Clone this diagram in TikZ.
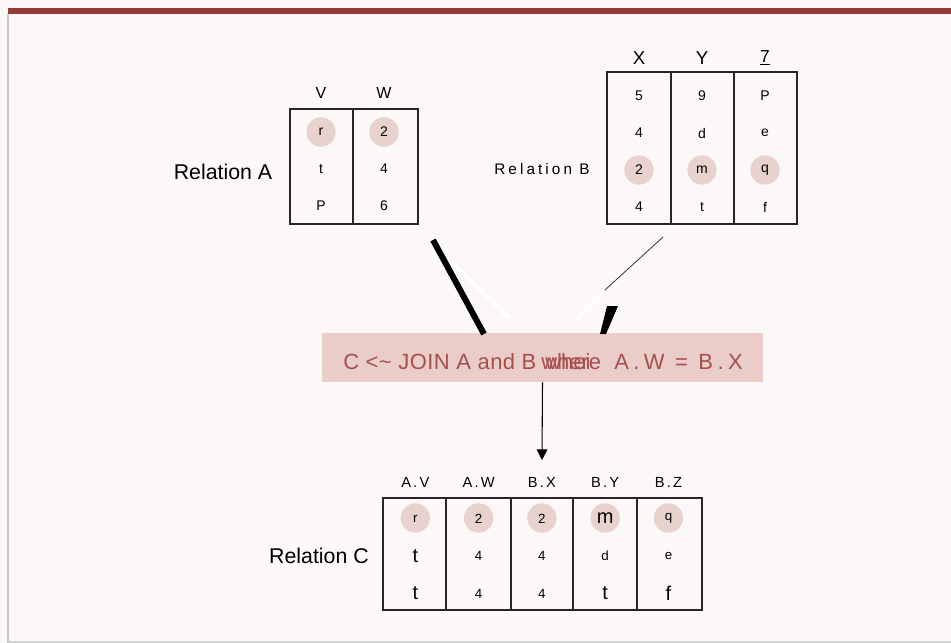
\documentclass[tikz,border=0pt]{standalone}
\usepackage{fontspec}
\setmainfont{Liberation Sans}
\usetikzlibrary{arrows.meta,positioning}
\definecolor{bgpink}{HTML}{FCF8F8}
\definecolor{barred}{HTML}{973A3A}
\definecolor{hlpink}{HTML}{E8D2CE}
\definecolor{boxpink}{HTML}{EACDC9}
\definecolor{jointext}{HTML}{A5504C}
\newcommand{\bigcell}{\fontsize{15}{18}\selectfont}
\tikzset{
  cell/.style={inner sep=0pt, font=\fontsize{10.5}{12}\selectfont},
  smallcell/.style={inner sep=0pt, font=\fontsize{10}{12}\selectfont},
  relname/.style={inner sep=0pt, font=\fontsize{16}{19}\selectfont},
  colhead/.style={inner sep=0pt, font=\fontsize{12}{14}\selectfont},
  jointxt/.style={anchor=west, inner sep=0pt, text=jointext, font=\fontsize{16.5}{19}\selectfont},
  tabline/.style={line width=1pt, draw=black!85},
  hl/.style={fill=hlpink},
}
\begin{document}
\begin{tikzpicture}[x=0.75pt, y=-0.75pt]
\useasboundingbox (0,0) rectangle (951,643);
\fill[bgpink] (0,0) rectangle (951,643);
% frame
\fill[barred] (8,8) rectangle (951,14);
\draw[gray!45, line width=0.8pt] (8,14) -- (8,643);
\draw[gray!35, line width=0.8pt] (8,642) -- (951,642);

% relation A
\foreach \c in {1,2} \fill[hl] ({258+63*\c},132) circle[radius=11pt];
\draw[tabline] (290,109) rectangle (418,224) (353,109) -- (353,224);
\foreach \h [count=\c] in {V,W}
  \node[colhead] (ha\c) at ({258+63*\c},93) {\h};
\foreach \vals [count=\r] in {{r,2},{t,4},{P,6}}
  \foreach \v [count=\c] in \vals
    \node[cell] (a\r\c) at ({258+63*\c},{95+37*\r}) {\v};
\node[relname] (relA) at (223,172) {Relation A};

% relation B
\foreach \c in {1,2,3} \fill[hl] ({576+63*\c},170) circle[radius=11pt];
\draw[tabline] (607,72) rectangle (797,224) (671,72) -- (671,224) (734,72) -- (734,224);
\foreach \h [count=\c] in {X,Y}
  \node[inner sep=0pt, font=\fontsize{14}{16}\selectfont] (hb\c) at ({576+63*\c},58) {\h};
\node[inner sep=0pt, font=\fontsize{13}{14}\selectfont] (hb3) at (765,58) {\underline{7}};
\foreach \vals [count=\r] in {{5,9,P},{4,d,e},{2,m,q},{4,t,f}}
  \foreach \v [count=\c] in \vals
    \node[cell] (b\r\c) at ({576+63*\c},{59+37*\r}) {\v};
\node[inner sep=0pt, font=\fontsize{11.5}{14}\selectfont\addfontfeature{LetterSpace=20}]
  (relB) at (542,169) {Relation B};

% join
\node[fill=boxpink, minimum width=331pt, minimum height=36.75pt, inner sep=0pt]
  (join) at (542.5,357.5) {};
\node[jointxt, font=\fontsize{16.5}{19}\selectfont\addfontfeature{LetterSpace=2}]
  (jtxt) at (343,362) {C <\~{} JOIN A and B};
\node[jointxt] (jwhere) at (541,362) {\makebox[0pt][l]{\hspace{3pt}whei}where};
\node[jointxt, anchor=east, font=\fontsize{16.5}{19}\selectfont\addfontfeature{LetterSpace=20}]
  (jcond) at (743,362) {A.W = B.X};

% connectors
\coordinate (aTop) at (433,240);
\coordinate (aFoot) at (484,334);
\coordinate (aGlow) at (453,263);
\coordinate (aGlowEnd) at (508,317);
\coordinate (bTop) at (663,237);
\coordinate (bFoot) at (605,290);
\coordinate (bGlow) at (603,292);
\coordinate (bGlowEnd) at (578,318);
\draw[white, line width=3pt, line cap=round] (aGlow) -- (aGlowEnd);
\draw[white, line width=3pt, line cap=round] (bGlow) -- (bGlowEnd);
\draw[line width=4.5pt] (aTop) -- (aFoot);
\draw[black!80, line width=0.6pt] (bTop) -- (bFoot);
\fill (607,306) -- (618,306) -- (606,334) -- (600,334) -- cycle;
\coordinate (cTip) at (542,460);
\draw[line width=0.8pt, -{Triangle[width=8pt,length=8pt]}] (join.south) -- (cTip);

% relation C
\foreach \c in {1,...,5} \fill[hl] ({352+63.3*\c},518) circle[radius=11pt];
\draw[tabline] (383,498) rectangle (702,610);
\foreach \xd in {446,511,573,637} \draw[tabline] (\xd,498) -- (\xd,610);
\foreach \h [count=\c] in {A.V,A.W,B.X,B.Y,B.Z}
  \node[inner sep=0pt, font=\fontsize{11}{13}\selectfont\addfontfeature{LetterSpace=15}]
    (hc\c) at ({352+63.3*\c},482) {\h};
\foreach \vals [count=\r] in {{r,2,2,\bigcell m,q},{\bigcell t,4,4,d,e},{\bigcell t,4,4,\bigcell t,\bigcell f}}
  \foreach \v [count=\c] in \vals
    \node[smallcell] (c\r\c) at ({352+63.3*\c},{481+37.5*\r}) {\v};
\node[relname] (relC) at (319,556) {Relation C};
\end{tikzpicture}
\end{document}
